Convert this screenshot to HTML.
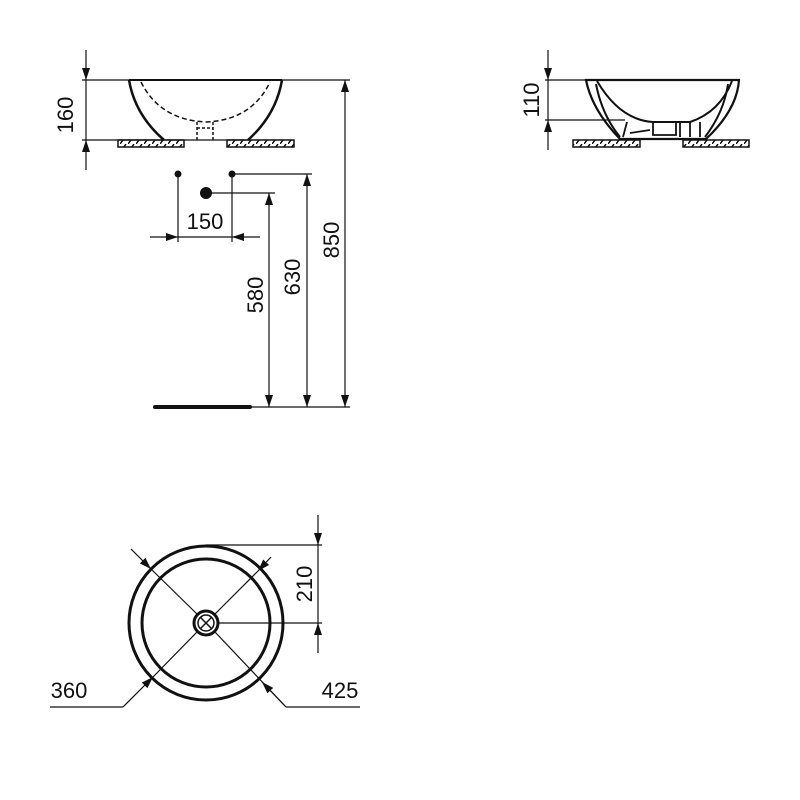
<!DOCTYPE html>
<html><head><style>body{margin:0;background:#fff}svg{display:block}text{font-family:"Liberation Sans",sans-serif;font-size:22px;fill:#111}</style></head>
<body>
<svg width="800" height="800" viewBox="0 0 800 800" xmlns="http://www.w3.org/2000/svg">
<defs>
<marker id="a" viewBox="0 0 12 8" refX="12" refY="4" markerWidth="12" markerHeight="8" markerUnits="userSpaceOnUse" orient="auto"><path d="M0,0L12,4L0,8z" fill="#111"/></marker>
<pattern id="h" width="8" height="8" patternUnits="userSpaceOnUse"><path d="M0,8L6,0" stroke="#111" stroke-width="1.5"/></pattern>
</defs>
<g stroke="#111" fill="none" stroke-width="1.2">
<line x1="82" y1="80" x2="350" y2="80"/>
<line x1="82" y1="140" x2="250" y2="140"/>
<line x1="86" y1="50" x2="86" y2="80" marker-end="url(#a)"/>
<line x1="86" y1="80" x2="86" y2="140"/>
<line x1="86" y1="170" x2="86" y2="140" marker-end="url(#a)"/>
<path d="M129,80 Q135,115 164,140 M282,80 Q276,115 248,140" stroke-width="2.5"/>
<line x1="129" y1="80" x2="282" y2="80" stroke-width="2"/>
<path d="M141,82 Q160,120 206,122 Q252,120 270,82" stroke-dasharray="5,3" stroke-width="1.5"/>
<path d="M197,122 L197,140 M213,122 L213,140 M197,128 L213,128" stroke-dasharray="3,2" stroke-width="1.5"/>
<rect x="118" y="140" width="66" height="7" fill="url(#h)" stroke-width="1.5"/>
<rect x="227" y="140" width="67" height="7" fill="url(#h)" stroke-width="1.5"/>
<line x1="178" y1="174" x2="178" y2="242"/>
<line x1="232" y1="174" x2="232" y2="242"/>
<line x1="232" y1="174" x2="312" y2="174"/>
<line x1="206" y1="193" x2="275" y2="193"/>
<line x1="150" y1="237" x2="178" y2="237" marker-end="url(#a)"/>
<line x1="178" y1="237" x2="232" y2="237"/>
<line x1="260" y1="237" x2="232" y2="237" marker-end="url(#a)"/>
<line x1="269" y1="300" x2="269" y2="193" marker-end="url(#a)"/>
<line x1="269" y1="300" x2="269" y2="407" marker-end="url(#a)"/>
<line x1="307" y1="300" x2="307" y2="174" marker-end="url(#a)"/>
<line x1="307" y1="300" x2="307" y2="407" marker-end="url(#a)"/>
<line x1="345" y1="250" x2="345" y2="80" marker-end="url(#a)"/>
<line x1="345" y1="250" x2="345" y2="407" marker-end="url(#a)"/>
<line x1="250" y1="407" x2="350" y2="407"/>
<line x1="155" y1="407" x2="250" y2="407" stroke-width="4" stroke-linecap="round"/>
<line x1="545" y1="80" x2="590" y2="80"/>
<line x1="545" y1="120" x2="625" y2="120"/>
<line x1="548" y1="50" x2="548" y2="80" marker-end="url(#a)"/>
<line x1="548" y1="80" x2="548" y2="120"/>
<line x1="548" y1="150" x2="548" y2="120" marker-end="url(#a)"/>
<path d="M586,80 L739,80 Q737,110 706,139 L620,139 Q592,110 586,80Z" stroke-width="2.2"/>
<path d="M596,84 Q602,115 620,137 M728,84 Q724,112 705,137" stroke-width="2"/>
<path d="M597,81 Q620,120 653,122 L690,122 Q720,112 732,81" stroke-width="2"/>
<path d="M627,122 L623,137 M653,122 L653,135 L676,135 L676,122 M680,122 L680,137 M690,122 L690,137 M700,122 L700,137 M630,133 L650,130" stroke-width="1.8"/>
<rect x="573" y="140" width="67" height="7" fill="url(#h)" stroke-width="1.5"/>
<rect x="683" y="140" width="66" height="7" fill="url(#h)" stroke-width="1.5"/>
<circle cx="206" cy="623" r="77" stroke-width="3"/>
<circle cx="206" cy="623" r="64" stroke-width="3"/>
<circle cx="206" cy="623" r="12" stroke-width="3"/>
<circle cx="206" cy="623" r="8" stroke-width="1.5"/>
<path d="M200,617L212,629M212,617L200,629" stroke-width="1.5"/>
<line x1="206" y1="545" x2="322" y2="545"/>
<line x1="218" y1="623" x2="322" y2="623"/>
<line x1="318" y1="515" x2="318" y2="545" marker-end="url(#a)"/>
<line x1="318" y1="545" x2="318" y2="623"/>
<line x1="318" y1="653" x2="318" y2="623" marker-end="url(#a)"/>
<line x1="131" y1="549" x2="151" y2="569" marker-end="url(#a)"/>
<line x1="151" y1="569" x2="197" y2="614"/>
<line x1="215" y1="632" x2="286" y2="707"/>
<line x1="286" y1="707" x2="360" y2="707"/>
<line x1="286" y1="707" x2="262" y2="682" marker-end="url(#a)"/>
<line x1="50" y1="707" x2="123" y2="707"/>
<line x1="123" y1="707" x2="153" y2="677" marker-end="url(#a)"/>
<line x1="153" y1="677" x2="197" y2="632"/>
<line x1="215" y1="614" x2="258" y2="571"/>
<line x1="271" y1="557" x2="258" y2="571" marker-end="url(#a)"/>
</g>
<circle cx="178" cy="174" r="3.5" fill="#111"/>
<circle cx="232" cy="174" r="3.5" fill="#111"/>
<circle cx="206" cy="193" r="6" fill="#111"/>
<text transform="translate(73,115) rotate(-90)" text-anchor="middle">160</text>
<text x="205" y="229" text-anchor="middle">150</text>
<text transform="translate(263,295) rotate(-90)" text-anchor="middle">580</text>
<text transform="translate(300,277) rotate(-90)" text-anchor="middle">630</text>
<text transform="translate(339,240) rotate(-90)" text-anchor="middle">850</text>
<text transform="translate(539,100) rotate(-90)" text-anchor="middle">110</text>
<text transform="translate(312,584) rotate(-90)" text-anchor="middle">210</text>
<text x="69" y="698" text-anchor="middle">360</text>
<text x="340" y="698" text-anchor="middle">425</text>
</svg>
</body></html>
